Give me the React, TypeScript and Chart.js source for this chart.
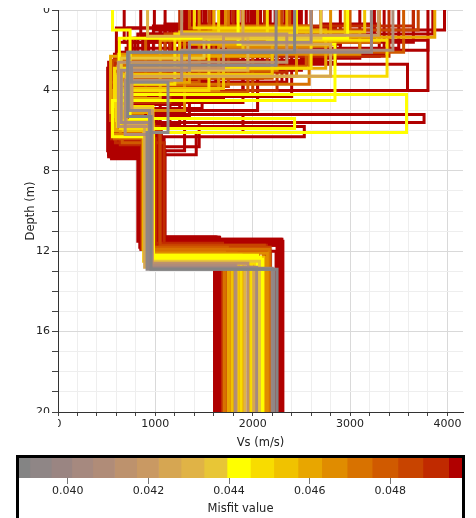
import React, { useEffect, useRef } from 'react';
import { Chart, registerables } from 'chart.js';

Chart.register(...registerables);

const FONT = '"DejaVu Sans", Verdana, sans-serif';
Chart.defaults.font.family = FONT;

// Misfit colour scale: cell edges and their fills
const MISFIT_EDGES = [
  0.03879, 0.03906, 0.03959, 0.0401, 0.04062, 0.04116, 0.04171, 0.04225, 0.04281, 0.04338,
  0.04395, 0.04453, 0.04511, 0.04571, 0.0463, 0.04693, 0.04755, 0.04819, 0.04881, 0.04945, 0.04978,
];
const MISFIT_COLORS = [
  '#848484', '#8f8686', '#9a8582', '#a6897f', '#b08c78', '#bd926d', '#c99963', '#d6a652', '#e0b346', '#e8c636',
  '#ffff00', '#f8dc00', '#f0c200', '#e8a600', '#e08c00', '#d87200', '#d05a00', '#c84400', '#c02a00', '#b00000',
];
const MISFIT_TICKS = [0.04, 0.042, 0.044, 0.046, 0.048];

// Axis ranges and ticks
const VS_RANGE = [0, 4160];
const DEPTH_RANGE = [0, 20];
const VS_TICKS = [0, 200, 400, 600, 800, 1000, 1200, 1400, 1600, 1800, 2000, 2200, 2400, 2600, 2800, 3000, 3200, 3400, 3600, 3800, 4000];
const VS_LABELS = [0, 1000, 2000, 3000, 4000];
const DEPTH_TICKS = [0, 1, 2, 3, 4, 5, 6, 7, 8, 9, 10, 11, 12, 13, 14, 15, 16, 17, 18, 19, 20];
const DEPTH_LABELS = [0, 4, 8, 12, 16, 20];

// Inverted Vs profiles: misfit, layer bottoms (m) and layer velocities (m/s)
const MISFIT = [
  0.0497, 0.0497, 0.0497, 0.0497, 0.0497, 0.0497, 0.0496, 0.0496, 0.0496, 0.0496,
  0.0496, 0.0496, 0.0496, 0.0496, 0.0496, 0.0496, 0.0495, 0.0495, 0.0495, 0.0495,
  0.0495, 0.0495, 0.0495, 0.0495, 0.0495, 0.0495, 0.0495, 0.0495, 0.0493, 0.0492,
  0.0491, 0.049, 0.0489, 0.0487, 0.0486, 0.0484, 0.0483, 0.0481, 0.0479, 0.0478,
  0.0477, 0.0474, 0.0472, 0.047, 0.0468, 0.0466, 0.0464, 0.0461, 0.0459, 0.0458,
  0.0456, 0.0454, 0.0452, 0.045, 0.0448, 0.0446, 0.0444, 0.0443, 0.0441, 0.0437,
  0.0431, 0.0425, 0.0419, 0.0415, 0.0409, 0.0404, 0.0398, 0.0393, 0.0389,
  0.0497, 0.0497, 0.0497, 0.0497, 0.0496, 0.0496, 0.0496, 0.0496, 0.0496, 0.0496,
  0.0496, 0.0496, 0.0496, 0.0495, 0.0495, 0.0495, 0.0495, 0.0495, 0.0495, 0.0495,
  0.0495, 0.0495, 0.0495, 0.0495, 0.0491, 0.0485, 0.0476, 0.0467, 0.046, 0.0447,
];
const Z1 = [
  1.5, 2.7, 1.6, 1.0, 2.0, 1.6, 1.9, 1.4, 2.4, 1.7,
  0.7, 1.3, 1.8, 1.2, 0.9, 2.0, 1.1, 2.6, 1.5, 1.0,
  1.2, 2.2, 1.6, 1.4, 0.8, 1.3, 1.1, 0.9, 1.3, 2.3,
  1.5, 0.8, 1.7, 1.0, 1.2, 1.9, 1.4, 1.5, 0.9, 2.1,
  1.3, 1.9, 0.8, 1.6, 1.1, 1.8, 1.3, 1.35, 1.7, 1.0,
  1.3, 2.0, 1.1, 0.9, 1.5, 1.2, 1.7, 1.4, 1.0, 1.4,
  1.3, 1.7, 1.25, 1.2, 2.0, 1.6, 2.1, 2.75, 2.1,
  1.2, 0.9, 1.4, 1.0, 1.5, 0.8, 1.3, 1.1, 1.6, 0.7,
  1.2, 0.9, 1.4, 1.0, 1.7, 0.8, 1.3, 1.1, 1.5, 0.9,
  1.2, 1.6, 1.0, 1.3, 1.2, 1.0, 1.4, 1.1, 1.5, 1.2,
];
const Z2 = [
  4.0, 4.0, 5.2, 2.2, 2.6, 3.6, 6.1, 4.6, 3.0, 2.8,
  2.3, 3.7, 3.0, 3.8, 5.8, 4.3, 3.3, 3.4, 2.9, 4.4,
  2.1, 5.0, 3.5, 2.7, 3.9, 2.5, 3.2, 2.6, 4.0, 3.2,
  2.4, 3.1, 3.9, 2.5, 3.1, 2.9, 4.2, 3.4, 2.8, 3.6,
  4.1, 3.7, 2.7, 3.0, 2.2, 4.0, 3.3, 2.3, 3.6, 2.9,
  3.9, 3.2, 2.6, 2.9, 3.3, 4.0, 4.5, 4.2, 5.4, 2.4,
  3.0, 3.3, 2.9, 2.6, 3.5, 3.0, 5.0, 3.6, 5.3,
  4.8, 3.9, 5.1, 4.2, 5.5, 3.4, 4.6, 5.7, 3.8, 4.4,
  5.3, 4.0, 5.0, 3.6, 4.9, 4.3, 5.6, 3.1, 4.7, 5.2,
  3.9, 4.5, 5.9, 4.1, 4.6, 3.8, 4.3, 5.0, 4.4, 3.7,
];
const Z3 = [
  6.2, 6.5, 5.6, 5.5, 6.9, 7.3, 7.2, 7.0, 5.7, 6.6,
  6.0, 7.4, 5.6, 6.8, 6.3, 6.5, 6.9, 6.0, 7.0, 6.4,
  5.9, 7.1, 6.2, 5.8, 6.7, 5.4, 6.1, 6.3, 6.7, 6.6,
  6.1, 5.8, 6.4, 5.9, 6.0, 6.2, 5.7, 6.4, 6.1, 5.5,
  6.6, 6.1, 5.2, 5.9, 5.6, 6.2, 5.8, 5.1, 6.0, 5.5,
  6.0, 5.3, 5.7, 4.8, 5.5, 5.9, 6.3, 6.1, 5.9, 4.9,
  5.6, 5.7, 5.0, 5.8, 6.2, 5.6, 5.0, 6.1, 5.3,
  6.8, 6.1, 7.0, 6.5, 6.9, 5.9, 7.2, 6.6, 6.3, 6.0,
  7.1, 5.8, 6.7, 6.4, 6.2, 7.3, 6.8, 5.5, 6.9, 6.1,
  6.6, 6.0, 7.0, 6.3, 6.4, 6.1, 5.9, 6.3, 6.0, 5.8,
];
const Z4 = [
  11.5, 11.4, 11.3, 11.6, 11.8, 12.0, 11.9, 12.1, 11.5, 11.7,
  11.4, 11.6, 11.3, 11.5, 11.8, 11.4, 11.6, 11.9, 12.0, 11.5,
  11.7, 11.3, 11.6, 11.8, 11.4, 11.7, 11.5, 11.6, 11.6, 12.0,
  11.8, 11.7, 11.9, 11.9, 11.7, 12.0, 11.8, 11.8, 12.0, 12.1,
  11.9, 12.0, 11.9, 12.2, 12.1, 12.2, 12.3, 12.3, 12.2, 12.4,
  12.5, 12.4, 12.3, 12.2, 12.6, 12.4, 12.4, 12.2, 12.3, 12.5,
  12.6, 12.8, 12.7, 12.6, 12.7, 12.8, 12.85, 12.9, 12.9,
  11.5, 11.6, 11.4, 11.7, 11.3, 11.5, 11.8, 11.6, 11.4, 11.7,
  11.5, 11.9, 11.6, 11.3, 11.8, 11.5, 11.7, 11.4, 11.6, 11.9,
  11.5, 11.8, 11.3, 11.7, 11.8, 11.9, 12.0, 12.1, 12.3, 12.4,
];
const VS1 = [
  2000, 1500, 2500, 3970, 3800, 3650, 3500, 3250, 3100, 2900,
  2700, 2550, 2350, 2150, 1950, 1700, 1450, 1300, 1100, 990,
  3850, 3350, 680, 850, 1850, 1600, 2250, 1750, 1250, 3400,
  2450, 3650, 1800, 3700, 2300, 2050, 1550, 3000, 1350, 3550,
  2600, 1750, 2600, 3300, 2050, 2800, 1450, 3870, 2350, 1600,
  2950, 1900, 3150, 1400, 2150, 2450, 1850, 2975, 560, 2700,
  920, 1900, 3290, 1270, 3440, 2600, 3220, 2240, 2430,
  1380, 1920, 2080, 2420, 1580, 2280, 1680, 2180, 1820, 2480,
  1430, 2020, 2360, 1520, 1980, 2140, 1660, 2330, 1470, 1890,
  2230, 1770, 2400, 1330, 2120, 1560, 2380, 1720, 2270, 1650,
];
const VS2 = [
  3800, 3590, 620, 2900, 1200, 2300, 700, 1900, 2500, 1800,
  3300, 900, 1300, 1500, 600, 2400, 2100, 2100, 1650, 1700,
  1350, 2050, 1550, 2200, 1150, 2750, 1750, 2850, 2250, 1000,
  1850, 2350, 1250, 1600, 1100, 2150, 2000, 2200, 2550, 1450,
  1950, 2580, 1450, 2250, 3100, 1650, 2450, 2200, 1350, 2750,
  1700, 2200, 1250, 2600, 3380, 1550, 2845, 630, 740, 1500,
  1950, 2800, 1700, 2350, 1270, 1350, 730, 755, 715,
  820, 1050, 760, 1180, 930, 1420, 870, 1250, 1620, 1100,
  1350, 1900, 790, 2350, 1480, 980, 1150, 1700, 1280, 720,
  880, 2050, 1050, 1550, 1150, 1750, 900, 1300, 1050, 1200,
];
const VS3 = [
  560, 600, 3760, 580, 520, 540, 1420, 520, 600, 530,
  610, 550, 640, 560, 2530, 590, 620, 540, 510, 570,
  600, 700, 530, 580, 520, 610, 560, 590, 640, 590,
  580, 620, 550, 560, 600, 650, 570, 580, 610, 540,
  660, 700, 650, 590, 620, 560, 610, 540, 600, 660,
  670, 580, 620, 580, 600, 640, 560, 3580, 2430, 650,
  700, 700, 760, 620, 690, 650, 730, 1130, 715,
  560, 530, 1300, 580, 540, 600, 520, 610, 570, 550,
  560, 630, 600, 540, 590, 520, 1450, 560, 550, 1900,
  530, 600, 620, 570, 580, 620, 600, 640, 590, 610,
];
const VS4 = [
  1000, 960, 900, 1020, 940, 1090, 850, 1100, 1050, 880,
  1000, 1070, 1020, 820, 980, 1040, 930, 1060, 890, 1010,
  960, 1090, 1030, 870, 1080, 950, 1000, 920, 990, 1090,
  950, 1040, 860, 870, 1050, 930, 985, 960, 900, 905,
  880, 945, 870, 970, 920, 960, 940, 930, 900, 980,
  880, 950, 900, 975, 950, 920, 975, 980, 965, 960,
  960, 890, 970, 935, 960, 940, 940, 915, 955,
  1000, 960, 900, 1060, 1020, 880, 940, 1080, 990, 920,
  1050, 860, 970, 1090, 900, 1030, 870, 1010, 950, 1060,
  980, 840, 1070, 930, 1000, 940, 960, 910, 950, 930,
];
const VS5 = [
  1620, 2300, 1650, 1660, 1640, 1680, 1720, 1630, 1690, 2280,
  1620, 2260, 1660, 1700, 1640, 2290, 1610, 1680, 2240, 1650,
  1700, 1620, 1670, 1710, 1640, 1690, 1660, 1630, 1690, 2180,
  1730, 2140, 1710, 1700, 2120, 1760, 2180, 1740, 2160, 1780,
  2060, 1710, 2170, 1800, 2150, 1770, 2130, 1750, 2010, 1860,
  1790, 1970, 2110, 1880, 2030, 1840, 2100, 2050, 2080, 2070,
  1920, 2010, 1830, 1950, 1820, 2040, 2200, 2220, 2250,
  1630, 1670, 1650, 1690, 1620, 2270, 1660, 1700, 1640, 1610,
  2310, 1680, 1650, 1630, 1690, 2250, 1660, 1620, 1710, 1640,
  1670, 1690, 1610, 2270, 1720, 1750, 2110, 1830, 1900, 1990,
];

function misfitColor(m: number): string {
  for (let c = 0; c < MISFIT_COLORS.length; c++) {
    if (m < MISFIT_EDGES[c + 1]) return MISFIT_COLORS[c];
  }
  return MISFIT_COLORS[MISFIT_COLORS.length - 1];
}

// Step profile: each layer is a vertical run joined by a horizontal jump
function profilePoints(i: number) {
  const tops = [DEPTH_RANGE[0], Z1[i], Z2[i], Z3[i], Z4[i]];
  const bottoms = [Z1[i], Z2[i], Z3[i], Z4[i], DEPTH_RANGE[1]];
  const vs = [VS1[i], VS2[i], VS3[i], VS4[i], VS5[i]];
  const pts: { x: number; y: number }[] = [];
  for (let k = 0; k < vs.length; k++) {
    pts.push({ x: vs[k], y: tops[k] });
    pts.push({ x: vs[k], y: bottoms[k] });
  }
  return pts;
}

const TEXT = '#222';
const GRID_MAJOR = '#d9d9d9';
const GRID_MINOR = '#eeeeee';

// Hides the overhang of the first tick labels past the axes corner
const cornerMask = {
  id: 'cornerMask',
  afterDraw(chart: any) {
    const { ctx, chartArea } = chart;
    ctx.save();
    ctx.fillStyle = '#fff';
    ctx.fillRect(0, chartArea.bottom + 1, chartArea.left, 30);
    ctx.restore();
  },
};

export default function App() {
  const mainRef = useRef<HTMLCanvasElement>(null);
  const barRef = useRef<HTMLCanvasElement>(null);

  useEffect(() => {
    // best (lowest misfit) first, so it is painted last and sits on top
    const order = MISFIT.map((_, i) => i).sort((a, b) => MISFIT[a] - MISFIT[b]);
    const datasets = order.map((i) => ({
      data: profilePoints(i),
      showLine: true,
      borderColor: misfitColor(MISFIT[i]),
      backgroundColor: misfitColor(MISFIT[i]),
      borderWidth: 3,
      pointRadius: 0,
      pointHoverRadius: 0,
      fill: false,
      tension: 0,
    }));

    const main = new Chart(mainRef.current!, {
      type: 'scatter',
      data: { datasets },
      plugins: [cornerMask],
      options: {
        responsive: false,
        animation: false,
        events: [],
        layout: { padding: { top: 2, right: 5, bottom: 0, left: 0 } },
        plugins: { legend: { display: false }, tooltip: { enabled: false } },
        scales: {
          x: {
            type: 'linear',
            min: VS_RANGE[0],
            max: VS_RANGE[1],
            afterBuildTicks: (s: any) => {
              s.ticks = VS_TICKS.map((v) => ({ value: v }));
            },
            afterFit: (s: any) => {
              s.height = 42;
              s.paddingLeft = 0;
              s.paddingRight = 0;
            },
            ticks: {
              autoSkip: false,
              maxRotation: 0,
              padding: 2,
              color: TEXT,
              font: { size: 11 },
              callback: (v: any) => (VS_LABELS.includes(Number(v)) ? String(v) : ''),
            },
            grid: {
              color: (c: any) => (c.tick && VS_LABELS.includes(c.tick.value) ? GRID_MAJOR : GRID_MINOR),
              tickColor: '#444',
              tickLength: 4,
            },
            border: { display: true, color: '#333', width: 1 },
            title: {
              display: true,
              text: 'Vs (m/s)',
              color: TEXT,
              font: { size: 11.5 },
              padding: { top: 0, bottom: 4 },
            },
          },
          y: {
            type: 'linear',
            reverse: true,
            min: DEPTH_RANGE[0],
            max: DEPTH_RANGE[1],
            afterBuildTicks: (s: any) => {
              s.ticks = DEPTH_TICKS.map((v) => ({ value: v }));
            },
            afterFit: (s: any) => {
              s.width = 50;
              s.paddingTop = 0;
              s.paddingBottom = 0;
            },
            ticks: {
              autoSkip: false,
              padding: 2,
              color: TEXT,
              font: { size: 11 },
              callback: (v: any) => (DEPTH_LABELS.includes(Number(v)) ? String(v) : ''),
            },
            grid: {
              color: (c: any) => (c.tick && DEPTH_LABELS.includes(c.tick.value) ? GRID_MAJOR : GRID_MINOR),
              tickColor: '#444',
              tickLength: 6,
            },
            border: { display: true, color: '#333', width: 1 },
            title: {
              display: true,
              text: 'Depth (m)',
              color: TEXT,
              font: { size: 11.5 },
              padding: { top: 16, bottom: 0 },
            },
          },
        },
      },
    } as any);

    const bar = new Chart(barRef.current!, {
      type: 'bar',
      data: {
        labels: [''],
        datasets: MISFIT_COLORS.map((col, c) => ({
          data: [[MISFIT_EDGES[c], MISFIT_EDGES[c + 1]]],
          backgroundColor: col,
          borderWidth: 0,
          barPercentage: 1,
          categoryPercentage: 1,
          grouped: false,
        })),
      },
      options: {
        indexAxis: 'y',
        responsive: false,
        animation: false,
        events: [],
        layout: { padding: 0 },
        plugins: { legend: { display: false }, tooltip: { enabled: false } },
        scales: {
          y: { display: false },
          x: {
            type: 'linear',
            min: MISFIT_EDGES[0],
            max: MISFIT_EDGES[MISFIT_EDGES.length - 1],
            afterBuildTicks: (s: any) => {
              s.ticks = MISFIT_TICKS.map((v) => ({ value: v }));
            },
            afterFit: (s: any) => {
              s.height = 50;
              s.paddingLeft = 0;
              s.paddingRight = 0;
            },
            ticks: {
              autoSkip: false,
              maxRotation: 0,
              padding: 1,
              color: TEXT,
              font: { size: 11 },
              callback: (v: any) => Number(v).toFixed(3),
            },
            grid: {
              display: true,
              drawOnChartArea: false,
              drawTicks: true,
              tickLength: 6,
              tickColor: '#777',
            },
            border: { display: false },
            title: {
              display: true,
              text: 'Misfit value',
              color: TEXT,
              font: { size: 11.5 },
              padding: { top: 0, bottom: 12 },
            },
          },
        },
      },
    } as any);

    return () => {
      main.destroy();
      bar.destroy();
    };
  }, []);

  return (
    <div
      style={{
        position: 'fixed',
        left: 0,
        top: 0,
        width: 476,
        height: 518,
        overflow: 'hidden',
        background: '#fff',
      }}
    >
      <canvas ref={mainRef} width={460} height={446} style={{ position: 'absolute', left: 8, top: 8 }} />
      <div
        style={{
          position: 'absolute',
          left: 16,
          top: 455,
          width: 443,
          height: 80,
          border: '3px solid #000',
          background: '#fff',
        }}
      >
        <canvas ref={barRef} width={443} height={70} style={{ display: 'block' }} />
      </div>
    </div>
  );
}
